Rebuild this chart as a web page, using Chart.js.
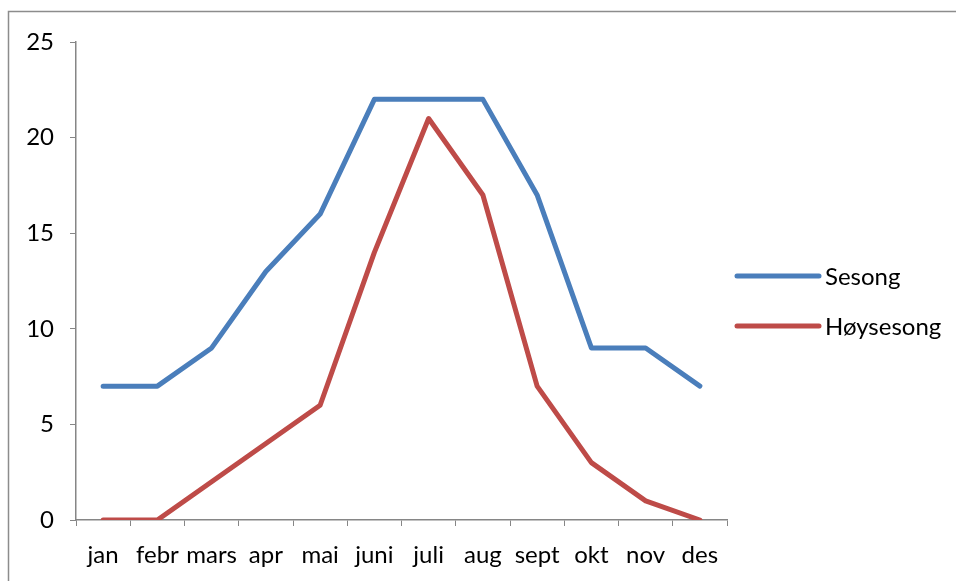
<!DOCTYPE html>
<html>
<head>
<meta charset="utf-8">
<script src="https://cdn.jsdelivr.net/npm/chart.js@4/dist/chart.umd.min.js"></script>
<style>
  html, body { margin: 0; padding: 0; background: #fff; }
  #wrap { position: relative; width: 956px; height: 581px; }
</style>
</head>
<body>
<div id="wrap"><canvas id="c" width="956" height="581"></canvas></div>
<script>
const maaneder = ['jan', 'febr', 'mars', 'apr', 'mai', 'juni', 'juli', 'aug', 'sept', 'okt', 'nov', 'des'];
const sesong = [7, 7, 9, 13, 16, 22, 22, 22, 17, 9, 9, 7];
const hoysesong = [0, 0, 2, 4, 6, 14, 21, 17, 7, 3, 1, 0];
const yTicks = [0, 5, 10, 15, 20, 25];

const blue = '#4a7ebb';
const red = '#be4b48';
const axisGrey = '#868686';

Chart.defaults.font.family = 'Lato, "Open Sans", sans-serif';
Chart.defaults.font.size = 24;
Chart.defaults.color = '#000';

// ramme og legende tegnes selv for å treffe plasseringen
const rammePlugin = {
  id: 'ramme',
  beforeDraw(chart) {
    const ctx = chart.ctx;
    ctx.save();
    ctx.strokeStyle = '#8c8c8c';
    ctx.lineWidth = 1.5;
    ctx.strokeRect(8.5, 11.5, 1000, 1000);
    ctx.restore();
  },
  afterDraw(chart) {
    const ctx = chart.ctx;
    ctx.save();
    chart.data.datasets.forEach((ds, i) => {
      const y = 276 + i * 50;
      ctx.strokeStyle = ds.borderColor;
      ctx.lineWidth = 5;
      ctx.lineCap = 'round';
      ctx.beginPath();
      ctx.moveTo(737, y);
      ctx.lineTo(819, y);
      ctx.stroke();
      ctx.fillStyle = '#000';
      ctx.font = '24px ' + Chart.defaults.font.family;
      ctx.textBaseline = 'middle';
      ctx.fillText(ds.label, 825, y + 1);
    });
    ctx.restore();
  }
};

new Chart(document.getElementById('c'), {
  type: 'line',
  data: {
    labels: maaneder,
    datasets: [
      { label: 'Sesong', data: sesong, borderColor: blue, backgroundColor: blue },
      { label: 'Høysesong', data: hoysesong, borderColor: red, backgroundColor: red },
    ],
  },
  options: {
    responsive: false,
    animation: false,
    layout: { padding: { left: 0, top: 42, right: 229, bottom: 0 } },
    elements: {
      line: { borderWidth: 5, tension: 0, borderJoinStyle: 'round', borderCapStyle: 'round' },
      point: { radius: 0 },
    },
    plugins: {
      legend: { display: false },
      tooltip: { enabled: false },
    },
    scales: {
      x: {
        offset: true,
        grid: { offset: true, drawOnChartArea: false, drawTicks: true, tickLength: 6, color: axisGrey },
        border: { color: axisGrey, width: 1.5 },
        ticks: { padding: 15, maxRotation: 0, autoSkip: false },
        afterFit(scale) { scale.height = 61; },
      },
      y: {
        min: 0,
        max: 25,
        afterBuildTicks(scale) { scale.ticks = yTicks.map(v => ({ value: v })); },
        grid: { drawOnChartArea: false, drawTicks: true, tickLength: 6, color: axisGrey },
        border: { color: axisGrey, width: 1.5 },
        ticks: { padding: 16 },
        afterFit(scale) { scale.width = 76; },
      },
    },
  },
  plugins: [rammePlugin],
});
</script>
</body>
</html>
